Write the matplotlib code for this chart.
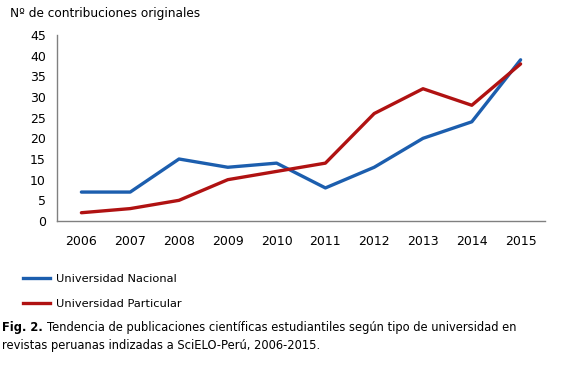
import matplotlib.pyplot as plt
from matplotlib.lines import Line2D

years = [2006, 2007, 2008, 2009, 2010, 2011, 2012, 2013, 2014, 2015]
nacional = [7, 7, 15, 13, 14, 8, 13, 20, 24, 39]
particular = [2, 3, 5, 10, 12, 14, 26, 32, 28, 38]
y_ticks = [0, 5, 10, 15, 20, 25, 30, 35, 40, 45]

blue = "#1c5eae"
red = "#b01212"

plt.rcParams["font.family"] = ["Verdana", "DejaVu Sans"]
fig = plt.figure(figsize=(5.61, 3.72), dpi=100)
W, H = 561, 372
ax = fig.add_axes([57 / W, 1 - 221 / H, (545 - 57) / W, (221 - 35) / H])

ax.plot(years, nacional, color=blue, lw=2.4, solid_capstyle="round")
ax.plot(years, particular, color=red, lw=2.4, solid_capstyle="round")

ax.set_xlim(2005.5, 2015.5)
ax.set_ylim(0, 45)
ax.set_xticks(years)
ax.set_yticks(y_ticks)
ax.tick_params(length=0, labelsize=9, pad=8)
ax.tick_params(axis="x", pad=10)
for s in ["top", "right"]:
    ax.spines[s].set_visible(False)
for s in ["left", "bottom"]:
    ax.spines[s].set_color("#808080")
    ax.spines[s].set_linewidth(1)

fig.text(10 / W, 1 - 13 / H, "Nº de contribuciones originales", fontsize=8.7,
         va="center", ha="left")

handles = [Line2D([], [], color=blue, lw=2.4),
           Line2D([], [], color=red, lw=2.4)]
fig.legend(handles, ["Universidad Nacional", "Universidad Particular"],
           loc="upper left", bbox_to_anchor=(23 / W, 1 - 274 / H),
           frameon=False, fontsize=8.2, borderpad=0, borderaxespad=0,
           handlelength=2.35, handletextpad=0.55, labelspacing=1.3)

fig.text(2 / W, 1 - 327 / H, "Fig. 2.", fontsize=8.3, fontweight="bold",
         va="center", ha="left")
fig.text(47 / W, 1 - 327 / H,
         "Tendencia de publicaciones científicas estudiantiles según tipo de universidad en",
         fontsize=8.3, va="center", ha="left")
fig.text(2 / W, 1 - 346 / H,
         "revistas peruanas indizadas a SciELO-Perú, 2006-2015.",
         fontsize=8.3, va="center", ha="left")

fig.savefig("out.png", dpi=100)
